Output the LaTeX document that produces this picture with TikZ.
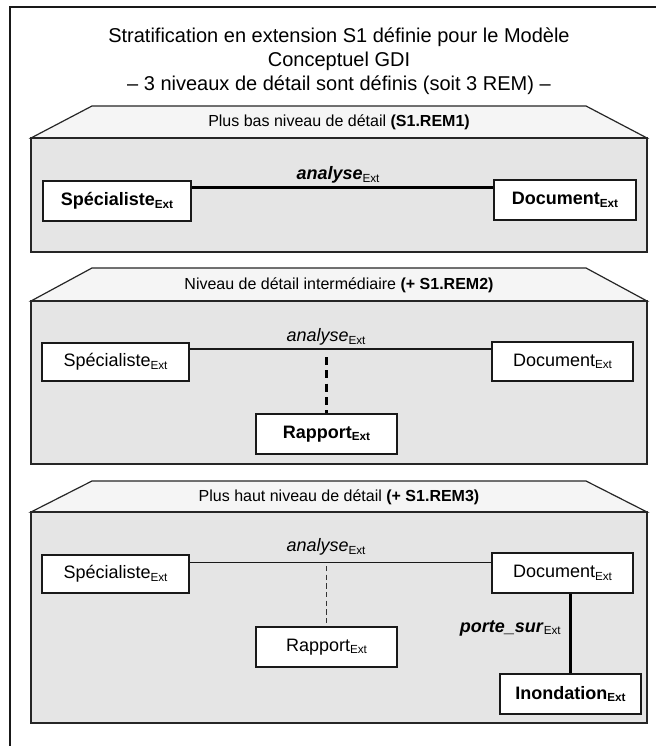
\documentclass[tikz,border=0pt]{standalone}
\usepackage{fontspec}
\setmainfont{Liberation Sans}
\usetikzlibrary{calc}
\newcommand{\xsub}[1]{\raisebox{-1.8pt}{\fontsize{8.8}{10}\selectfont #1}}
\begin{document}
\begin{tikzpicture}[x=0.75pt,y=-0.75pt,
  frame/.style={draw=black!90,line width=1.5pt},
  panel/.style={draw=black!85,line width=0.9pt,fill=black!10},
  roof/.style={draw=black!85,line width=0.9pt,fill=black!4},
  box/.style={draw=black!90,fill=white,line width=0.9pt,inner sep=0pt,
    font=\fontsize{13.5}{16}\selectfont},
  boldbox/.style={box,line width=2pt,font=\fontsize{13.5}{16}\selectfont\bfseries},
  ptitle/.style={font=\fontsize{12}{14}\selectfont,inner sep=0pt},
  lbl/.style={font=\fontsize{13.5}{16}\selectfont,inner sep=0pt},
  thinline/.style={draw=black!90,line width=0.9pt},
  thickline/.style={draw=black,line width=2pt},
  thickdash/.style={draw=black,line width=2pt,dash pattern=on 6pt off 4pt},
  thindash/.style={draw=black!80,line width=0.8pt,dash pattern=on 4pt off 2.5pt}
]
\useasboundingbox (0,0) rectangle (656,746);
\clip (0,0) rectangle (656,746);
\fill[white] (0,0) rectangle (656,746);
\draw[frame] (10,7) rectangle (668,760);

% main title
\node[font=\fontsize{15}{18}\selectfont,align=center,inner sep=0pt] (title) at (339,61)
  {Stratification en extension S1 définie pour le Modèle\\Conceptuel GDI\\– 3 niveaux de détail sont définis (soit 3 REM) –};

% ---------- Panel 1 ----------
\draw[roof] (31,138) -- (92,106) -- (586,106) -- (647,138) -- cycle;
\draw[panel] (31,138) rectangle (647,252);
\node[ptitle] (t1) at (339,122) {Plus bas niveau de détail \textbf{(S1.REM1)}};
\node[boldbox,minimum width=111pt,minimum height=30pt] (s1) at (117,201) {Spécialiste\xsub{Ext}};
\node[boldbox,minimum width=106.5pt,minimum height=30pt] (d1) at (565,200) {Document\xsub{Ext}};
\draw[thickline] ([yshift=-6pt]s1.north east) -- ([yshift=-6pt]s1.north east -| d1.west);
\node[lbl] (a1) at (338,175) {\textbf{\textit{analyse}}\xsub{Ext}};

% ---------- Panel 2 ----------
\draw[roof] (31,301) -- (92,268) -- (586,268) -- (647,301) -- cycle;
\draw[panel] (31,301) rectangle (647,464);
\node[ptitle] (t2) at (339,285) {Niveau de détail intermédiaire \textbf{(+ S1.REM2)}};
\node[box,minimum width=110.25pt,minimum height=28.5pt] (s2) at (115.5,362) {Spécialiste\xsub{Ext}};
\node[box,minimum width=105.75pt,minimum height=29.25pt] (d2) at (562.5,361.5) {Document\xsub{Ext}};
\node[boldbox,minimum width=105.75pt,minimum height=30pt] (r2) at (326.5,434) {Rapport\xsub{Ext}};
\draw[thinline] ([yshift=-5pt]s2.north east) -- ([yshift=-5pt]s2.north east -| d2.west);
\node[lbl] (a2) at (326,337) {\textit{analyse}\xsub{Ext}};
\coordinate (m2) at (326.5,357);
\draw[thickdash] (m2) -- (r2.north);

% ---------- Panel 3 ----------
\draw[roof] (31,512) -- (92,481) -- (586,481) -- (647,512) -- cycle;
\draw[panel] (31,512) rectangle (647,723);
\node[ptitle] (t3) at (339,497) {Plus haut niveau de détail \textbf{(+ S1.REM3)}};
\node[box,minimum width=110.25pt,minimum height=28.5pt] (s3) at (115.5,574) {Spécialiste\xsub{Ext}};
\node[box,minimum width=105.75pt,minimum height=30pt] (d3) at (562.5,573) {Document\xsub{Ext}};
\node[box,minimum width=105.75pt,minimum height=30pt] (r3) at (326.5,647) {Rapport\xsub{Ext}};
\node[boldbox,minimum width=105.75pt,minimum height=30pt] (i3) at (570.5,694) {Inondation\xsub{Ext}};
\draw[thinline] ([yshift=-6pt]s3.north east) -- ([yshift=-6pt]s3.north east -| d3.west);
\node[lbl] (a3) at (326,547) {\textit{analyse}\xsub{Ext}};
\coordinate (m3) at (326.5,566);
\draw[thindash] (m3) -- (r3.north);
\draw[thickline] (i3.north) -- (i3.north |- d3.south);
\node[lbl,anchor=east] (p3) at (561,628) {\textbf{\textit{porte\_sur}}\xsub{Ext}};
\end{tikzpicture}
\end{document}
